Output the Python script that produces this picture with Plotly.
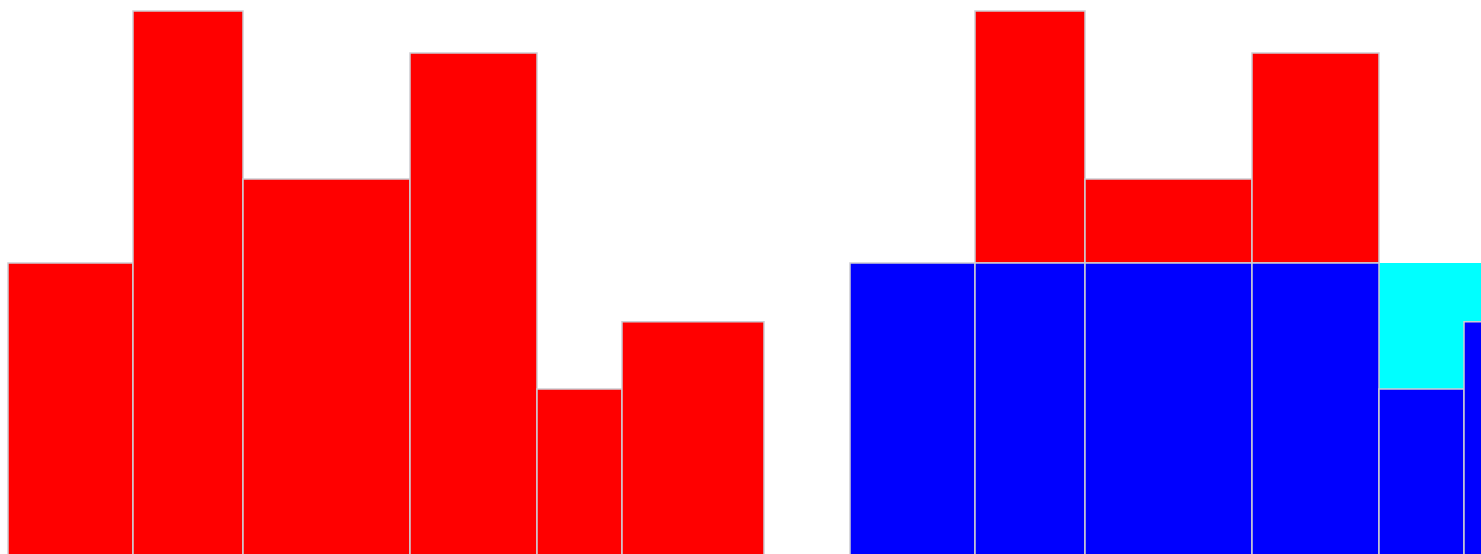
import plotly.graph_objects as go

# Bar positions (centres) and widths along the x axis
x_centers = [0.705, 1.88, 3.265, 4.735, 5.795, 6.93]
widths = [1.25, 1.10, 1.67, 1.27, 0.85, 1.42]
# Left panel: full values
values = [3.5, 6.5, 4.5, 6.0, 2.0, 2.8]

# Right panel
threshold = 3.5
blue_values = [3.5, 3.5, 3.5, 3.5, 2.0, 2.8]
red_x = [1.88, 3.265, 4.735]
red_widths = [1.10, 1.67, 1.27]
red_excess = [3.0, 1.0, 2.5]
cyan_x = [6.505]
cyan_widths = [2.27]
cyan_values = [3.5]

line = dict(color="rgb(205,205,210)", width=1.5)

fig = go.Figure()
fig.add_trace(go.Bar(x=x_centers, y=values, width=widths, marker=dict(color="#ff0000", line=line),
                     xaxis="x", yaxis="y", showlegend=False))
fig.add_trace(go.Bar(x=cyan_x, y=cyan_values, width=cyan_widths, marker=dict(color="#00ffff", line=dict(width=0)),
                     xaxis="x2", yaxis="y2", showlegend=False))
fig.add_trace(go.Bar(x=red_x, y=red_excess, base=[threshold] * len(red_x), width=red_widths,
                     marker=dict(color="#ff0000", line=line), xaxis="x2", yaxis="y2", showlegend=False))
fig.add_trace(go.Bar(x=x_centers, y=blue_values, width=widths, marker=dict(color="#0000ff", line=line),
                     xaxis="x2", yaxis="y2", showlegend=False))

ax = dict(showgrid=False, zeroline=False, showticklabels=False, showline=False, ticks="", fixedrange=True)
W, H = 1481, 554
split = 800 / W
fig.update_layout(
    width=W, height=H,
    margin=dict(l=0, r=0, t=0, b=0),
    paper_bgcolor="white", plot_bgcolor="white",
    barmode="overlay",
    xaxis=dict(domain=[0, split], range=[0.0, 8.0], **ax),
    xaxis2=dict(domain=[split, 1], range=[-0.42, 6.39], **ax),
    yaxis=dict(range=[0.0357, 6.631], **ax),
    yaxis2=dict(range=[0.0357, 6.631], anchor="x2", **ax),
)

fig.write_html(
    "out.html",
    config={"displayModeBar": False},
    post_script="document.body.style.margin='0';document.documentElement.style.overflow='hidden';document.body.style.overflow='hidden';",
)
